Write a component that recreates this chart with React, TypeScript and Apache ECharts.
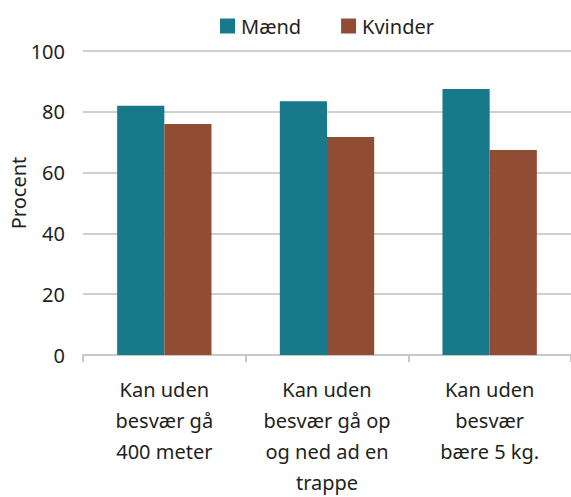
import React, { useEffect, useRef } from "react";
import * as echarts from "echarts";

const categories = [
  "Kan uden\nbesvær gå\n400 meter",
  "Kan uden\nbesvær gå op\nog ned ad en\ntrappe",
  "Kan uden\nbesvær\nbære 5 kg.",
];
const maend = [82, 83.5, 87.5];
const kvinder = [76, 71.7, 67.4];
const seriesNames = ["Mænd", "Kvinder"];
const yTicks = [0, 20, 40, 60, 80, 100];
const yTitle = "Procent";

const FONT = "'Noto Sans', 'Open Sans', sans-serif";
const TEXT = "#231f20";

export default function App() {
  const ref = useRef<HTMLDivElement>(null);
  useEffect(() => {
    if (!ref.current) return;
    const chart = echarts.init(ref.current, null, { renderer: "svg" });
    chart.setOption({
      animation: false,
      textStyle: { fontFamily: FONT },
      legend: {
        data: seriesNames,
        top: 11,
        left: 215,
        itemWidth: 15,
        itemHeight: 15,
        itemGap: 40,
        icon: "rect",
        textStyle: { fontSize: 20, color: TEXT, fontFamily: FONT, padding: [0, 0, 0, 1] },
      },
      graphic: [
        {
          type: "text",
          x: 18,
          y: 193,
          rotation: Math.PI / 2,
          style: {
            text: yTitle,
            fontSize: 20,
            fill: TEXT,
            fontFamily: FONT,
            textAlign: "center",
            textVerticalAlign: "middle",
          },
        },
      ],
      grid: {
        left: 83,
        right: 0,
        top: 51,
        bottom: 142,
        containLabel: false,
        outerBoundsMode: "none",
      },
      xAxis: {
        type: "category",
        data: categories,
        axisLine: { show: true, lineStyle: { color: "#c8c8c8", width: 2 } },
        axisTick: { show: true, alignWithLabel: false, length: 7, lineStyle: { color: "#c8c8c8", width: 2 } },
        axisLabel: {
          fontSize: 20,
          color: TEXT,
          lineHeight: 31,
          margin: 19,
          interval: 0,
          fontFamily: FONT,
        },
      },
      yAxis: {
        type: "value",
        min: 0,
        max: 100,
        interval: 20,
        axisLine: { show: false },
        axisTick: { show: false },
        axisLabel: {
          fontSize: 20,
          color: TEXT,
          margin: 18,
          fontFamily: FONT,
          formatter: (v: number) => (yTicks.includes(v) ? String(v) : ""),
        },
        splitLine: { lineStyle: { color: "#cfcfcf", width: 2 } },
      },
      series: [
        {
          name: seriesNames[0],
          type: "bar",
          data: maend,
          barWidth: "29%",
          barGap: "0%",
          itemStyle: { color: "#17798a" },
        },
        {
          name: seriesNames[1],
          type: "bar",
          data: kvinder,
          barWidth: "29%",
          barGap: "0%",
          itemStyle: { color: "#914d33" },
        },
      ],
    });
    return () => chart.dispose();
  }, []);
  return <div ref={ref} style={{ width: 571, height: 497, position: "absolute", left: 0, top: 0 }} />;
}
